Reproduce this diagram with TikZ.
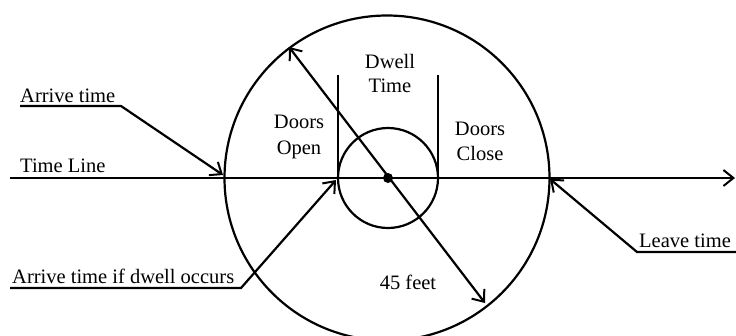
\documentclass[tikz,border=0pt]{standalone}
\usepackage{fontspec}
\setmainfont{Liberation Serif}
\usetikzlibrary{arrows.meta}
\begin{document}
\begin{tikzpicture}[x=1pt,y=-1pt,
  ln/.style={line width=2.2pt, line join=miter},
  tip/.style={-{Straight Barb[length=10pt,width=16pt,line width=2pt]}},
  lbl/.style={inner sep=0pt, font=\fontsize{20.5}{25}\selectfont},
  ring/.style={circle, draw, line width=2.2pt, inner sep=0pt, outer sep=0pt}]
\useasboundingbox (0,0) rectangle (736,335);
% circles
\coordinate (C) at (387,178);
\node[ring, minimum size=325pt] (big) at (C) {};
\node[ring, minimum size=100pt] (small) at (388,178) {};
\node[circle, fill, inner sep=0pt, minimum size=10pt] (dot) at (388,178) {};
% time line
\coordinate (tl0) at (10,178);
\coordinate (tl1) at (735,178);
\draw[ln, tip] (tl0) -- (tl1);
% dwell walls
\coordinate (w1t) at (338,75);
\coordinate (w1b) at (338,178);
\coordinate (w2t) at (438,75);
\coordinate (w2b) at (438,178);
\draw[ln] (w1t) -- (w1b);
\draw[ln] (w2t) -- (w2b);
% diameter
\coordinate (dA) at (289,47);
\coordinate (dB) at (485,303);
\draw[ln, {Straight Barb[length=10pt,width=16pt,line width=2pt]}-{Straight Barb[length=10pt,width=16pt,line width=2pt]}] (dA) -- (dB);
% labels
\node[lbl, anchor=base west] (arr) at (20,102) {Arrive time};
\node[lbl, anchor=base west] (tline) at (20,172) {Time Line};
\node[lbl, anchor=base west] (arrd) at (12,283) {Arrive time if dwell occurs};
\node[lbl, anchor=base west] (leave) at (639,247) {Leave time};
\node[lbl, anchor=base] (dw1) at (390,68) {Dwell};
\node[lbl, anchor=base] (dw2) at (390,92) {Time};
\node[lbl, anchor=base] (do1) at (299,128) {Doors};
\node[lbl, anchor=base] (do2) at (299,154) {Open};
\node[lbl, anchor=base] (dc1) at (480,135) {Doors};
\node[lbl, anchor=base] (dc2) at (480,160) {Close};
\node[lbl, anchor=base] (ft) at (408,289) {45 feet};
% pointers
\coordinate (a1) at (20,106);
\coordinate (a2) at (121,106);
\coordinate (a3) at (223,175);
\draw[ln, tip] (a1) -- (a2) -- (a3);
\coordinate (b1) at (10,288);
\coordinate (b2) at (241,288);
\coordinate (b3) at (336,180);
\draw[ln, tip] (b1) -- (b2) -- (b3);
\coordinate (c1) at (736,252);
\coordinate (c2) at (637,252);
\coordinate (c3) at (550,179);
\draw[ln, tip] (c1) -- (c2) -- (c3);
\end{tikzpicture}
\end{document}
